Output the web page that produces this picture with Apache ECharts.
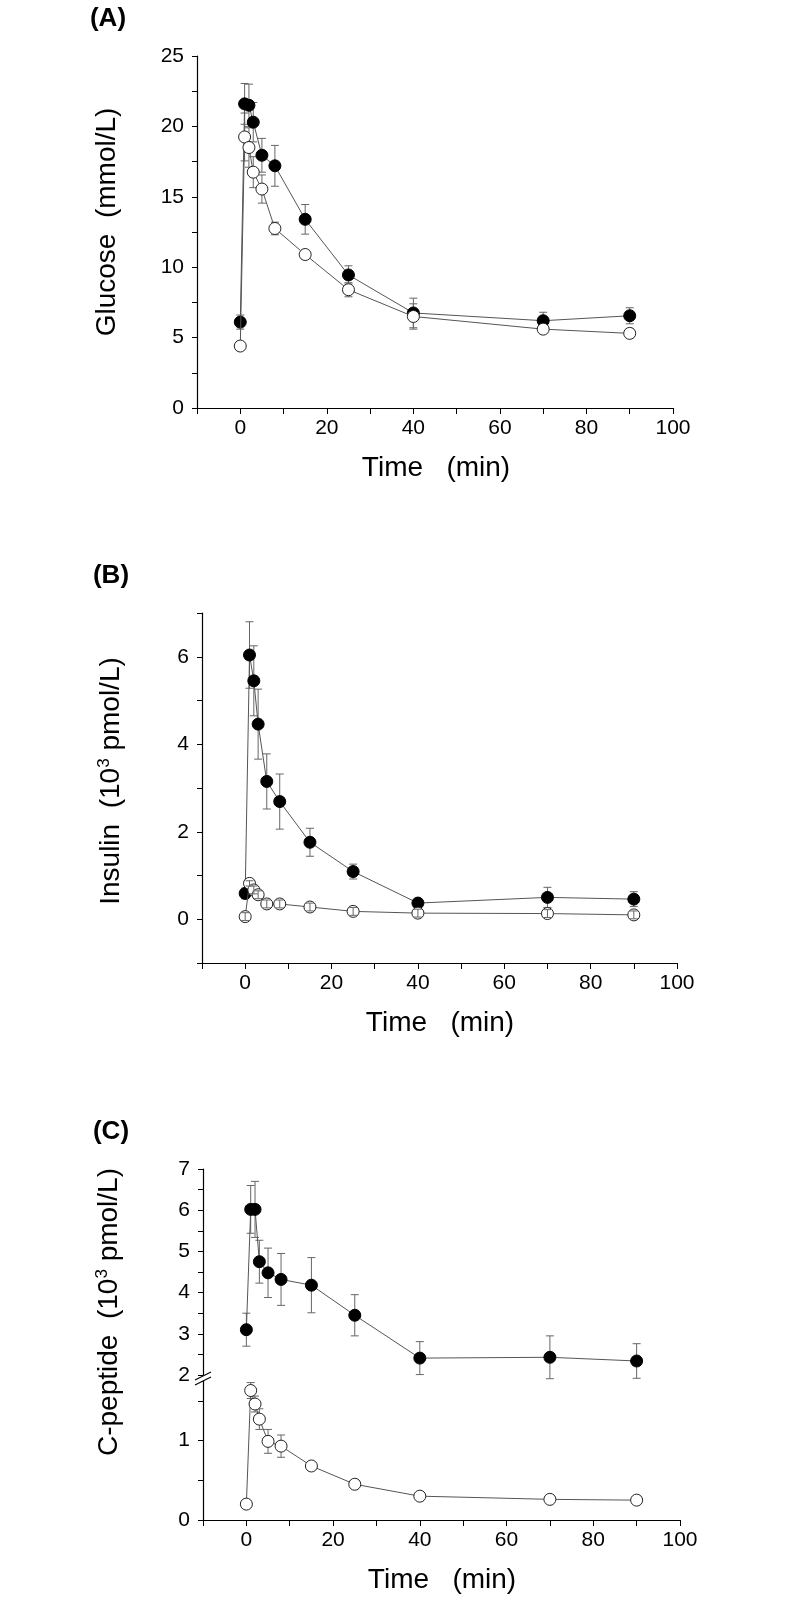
<!DOCTYPE html>
<html><head><meta charset="utf-8">
<script src="https://cdn.jsdelivr.net/npm/echarts@6/dist/echarts.min.js"></script>
<style>html,body{margin:0;padding:0;background:#fff}#c{width:787px;height:1599px}</style>
</head><body><div id="c"></div>
<script>
// ---- data ----
const times = [0, 1, 2, 3, 5, 8, 15, 25, 40, 70, 90];

const glucoseFilled    = [6.1, 21.6, 21.5, 20.3, 17.95, 17.2, 13.4, 9.45, 6.75, 6.2, 6.55];
const glucoseFilledErr = [0.5, 1.45, 1.5, 1.4, 1.2, 1.45, 1.05, 0.65, 1.05, 0.6, 0.57];
const glucoseOpen      = [4.4, 19.25, 18.5, 16.75, 15.55, 12.75, 10.9, 8.4, 6.5, 5.6, 5.3];
const glucoseOpenErr   = [0.25, 1.7, 1.4, 1.1, 1.0, 0.45, 0.3, 0.5, 0.9, 0.3, 0.3];

const insulinFilled    = [0.59, 6.04, 5.45, 4.46, 3.15, 2.69, 1.76, 1.09, 0.37, 0.5, 0.46];
const insulinFilledErr = [0.12, 0.76, 0.8, 0.8, 0.63, 0.63, 0.32, 0.17, 0.08, 0.23, 0.17];
const insulinOpen      = [0.06, 0.82, 0.67, 0.56, 0.35, 0.35, 0.28, 0.18, 0.14, 0.13, 0.1];
const insulinOpenErr   = [0.09, 0.06, 0.09, 0.09, 0.09, 0.09, 0.09, 0.09, 0.09, 0.09, 0.09];

const cpepFilled       = [3.1, 6.02, 6.02, 4.75, 4.48, 4.32, 4.18, 3.45, 2.41, 2.43, 2.34];
const cpepFilledErr    = [0.4, 0.58, 0.68, 0.52, 0.6, 0.63, 0.67, 0.5, 0.4, 0.52, 0.42];
const cpepOpen         = [0.2, 1.63, 1.46, 1.27, 0.99, 0.93, 0.68, 0.45, 0.3, 0.26, 0.25];
const cpepOpenErr      = [0.03, 0.1, 0.1, 0.13, 0.15, 0.14, 0.05, 0.03, 0.02, 0.02, 0.02];

const xTickLabels = ['0', '20', '40', '60', '80', '100'];
const panelLabels = ['(A)', '(B)', '(C)'];
const yTitles = ['Glucose  (mmol/L)', 'Insulin  (10', 'C-peptide  (10'];
const xTitle = 'Time   (min)';

// ---- chart ----
const FONT = 'Liberation Sans, Arial, sans-serif';
const chart = echarts.init(document.getElementById('c'), null, {renderer: 'canvas'});

function pairs(vals) { return times.map((t, i) => [t, vals[i]]); }

function xAxis(gi, show) {
  return {
    type: 'value', gridIndex: gi, min: -10, max: 100, interval: 10, show: show,
    axisLine: {show: true, onZero: false, lineStyle: {color: '#000', width: 1.2}},
    axisTick: {show: true, inside: false, length: 6, lineStyle: {color: '#000', width: 1}},
    splitLine: {show: false},
    axisLabel: {color: '#000', fontFamily: FONT, fontSize: 21, margin: 10,
      formatter: v => xTickLabels.indexOf(String(v)) >= 0 ? String(v) : ''}
  };
}
function yAxis(gi, min, max, interval, fmt) {
  return {
    type: 'value', gridIndex: gi, min, max, interval,
    axisLine: {show: true, onZero: false, lineStyle: {color: '#000', width: 1.2}},
    axisTick: {show: true, inside: false, length: 5, lineStyle: {color: '#000', width: 1}},
    splitLine: {show: false},
    axisLabel: {color: '#000', fontFamily: FONT, fontSize: 21, margin: 13, formatter: fmt,
      showMaxLabel: true, showMinLabel: true}
  };
}
function lineSeries(xi, vals, filled) {
  return {
    type: 'line', xAxisIndex: xi, yAxisIndex: xi, data: pairs(vals),
    symbol: 'circle', symbolSize: 12, showSymbol: true, z: filled ? 2 : 3,
    lineStyle: {color: '#555', width: 1},
    itemStyle: filled ? {color: '#000', borderColor: '#000', borderWidth: 1}
                      : {color: '#fff', borderColor: '#222', borderWidth: 1},
    emphasis: {disabled: true}, silent: true, animation: false
  };
}
function errSeries(xi, vals, errs, z) {
  return {
    type: 'custom', xAxisIndex: xi, yAxisIndex: xi, z: z, silent: true, animation: false,
    data: times.map((t, i) => [t, vals[i] - errs[i], vals[i] + errs[i]]),
    encode: {x: 0, y: [1, 2]},
    renderItem: (params, api) => {
      const x = api.value(0), lo = api.value(1), hi = api.value(2);
      const top = api.coord([x, hi]), bot = api.coord([x, lo]);
      const w = 4, style = {stroke: '#666', lineWidth: 1, fill: null};
      return {type: 'group', children: [
        {type: 'line', shape: {x1: top[0], y1: top[1], x2: bot[0], y2: bot[1]}, style},
        {type: 'line', shape: {x1: top[0] - w, y1: top[1], x2: top[0] + w, y2: top[1]}, style},
        {type: 'line', shape: {x1: bot[0] - w, y1: bot[1], x2: bot[0] + w, y2: bot[1]}, style}
      ]};
    }
  };
}

const titleStyle = {font: '28px ' + FONT, fill: '#000', textAlign: 'center', textVerticalAlign: 'middle'};
const panelStyle = {font: 'bold 26px ' + FONT, fill: '#000', textAlign: 'center', textVerticalAlign: 'middle'};
function richTitle(main) {
  return {
    text: '{a|' + main + '}{s|3}{a| pmol/L)}',
    rich: {a: {fontSize: 28, fontFamily: FONT, lineHeight: 30, fill: '#000'},
           s: {fontSize: 17, fontFamily: FONT, lineHeight: 17, verticalAlign: 'top', fill: '#000'}},
    textAlign: 'center', textVerticalAlign: 'middle', fill: '#000'
  };
}

const option = {
  animation: false,
  backgroundColor: '#fff',
  grid: [
    {left: 197, top: 56, width: 476, height: 352},
    {left: 202, top: 613, width: 475, height: 350},
    {left: 203, top: 1169, width: 477, height: 206},
    {left: 203, top: 1381, width: 477, height: 139}
  ],
  xAxis: [xAxis(0, true), xAxis(1, true), xAxis(2, false), xAxis(3, true)],
  yAxis: [
    yAxis(0, 0, 25, 2.5, v => (Math.abs(v % 5) < 1e-9 ? String(v) : '')),
    yAxis(1, -1, 7, 1, v => (v >= 0 && v % 2 === 0 ? String(v) : '')),
    yAxis(2, 2, 7, 0.5, v => (Number.isInteger(v) ? String(v) : '')),
    yAxis(3, 0, 1.75, 0.5, v => (v === 0 || v === 1 ? String(v) : ''))
  ],
  series: [
    errSeries(0, glucoseFilled, glucoseFilledErr, 1),
    errSeries(0, glucoseOpen, glucoseOpenErr, 1),
    lineSeries(0, glucoseFilled, true),
    lineSeries(0, glucoseOpen, false),

    errSeries(1, insulinFilled, insulinFilledErr, 1),
    lineSeries(1, insulinFilled, true),
    lineSeries(1, insulinOpen, false),
    errSeries(1, insulinOpen, insulinOpenErr, 4),

    errSeries(2, cpepFilled, cpepFilledErr, 1),
    errSeries(3, cpepOpen, cpepOpenErr, 1),
    lineSeries(2, cpepFilled, true),
    lineSeries(3, cpepOpen, false)
  ],
  graphic: [
    {type: 'text', x: 108, y: 19, style: Object.assign({text: panelLabels[0]}, panelStyle)},
    {type: 'text', x: 111, y: 576, style: Object.assign({text: panelLabels[1]}, panelStyle)},
    {type: 'text', x: 111, y: 1132, style: Object.assign({text: panelLabels[2]}, panelStyle)},

    {type: 'text', x: 107, y: 222, rotation: Math.PI / 2, style: Object.assign({text: yTitles[0]}, titleStyle)},
    {type: 'text', x: 111, y: 781, rotation: Math.PI / 2, style: richTitle(yTitles[1])},
    {type: 'text', x: 109, y: 1312, rotation: Math.PI / 2, style: richTitle(yTitles[2])},

    {type: 'text', x: 436, y: 468, style: Object.assign({text: xTitle}, titleStyle)},
    {type: 'text', x: 440, y: 1023, style: Object.assign({text: xTitle}, titleStyle)},
    {type: 'text', x: 442, y: 1580, style: Object.assign({text: xTitle}, titleStyle)},

    {type: 'polygon', shape: {points: [[195, 1380], [211, 1372], [211, 1377], [195, 1385]]},
     style: {fill: '#fff', stroke: null}, z: 100},
    {type: 'line', shape: {x1: 195, y1: 1380, x2: 211, y2: 1372}, style: {stroke: '#000', lineWidth: 1.2}, z: 101},
    {type: 'line', shape: {x1: 195, y1: 1385, x2: 211, y2: 1377}, style: {stroke: '#000', lineWidth: 1.2}, z: 101}
  ]
};
chart.setOption(option);
</script>
</body></html>
